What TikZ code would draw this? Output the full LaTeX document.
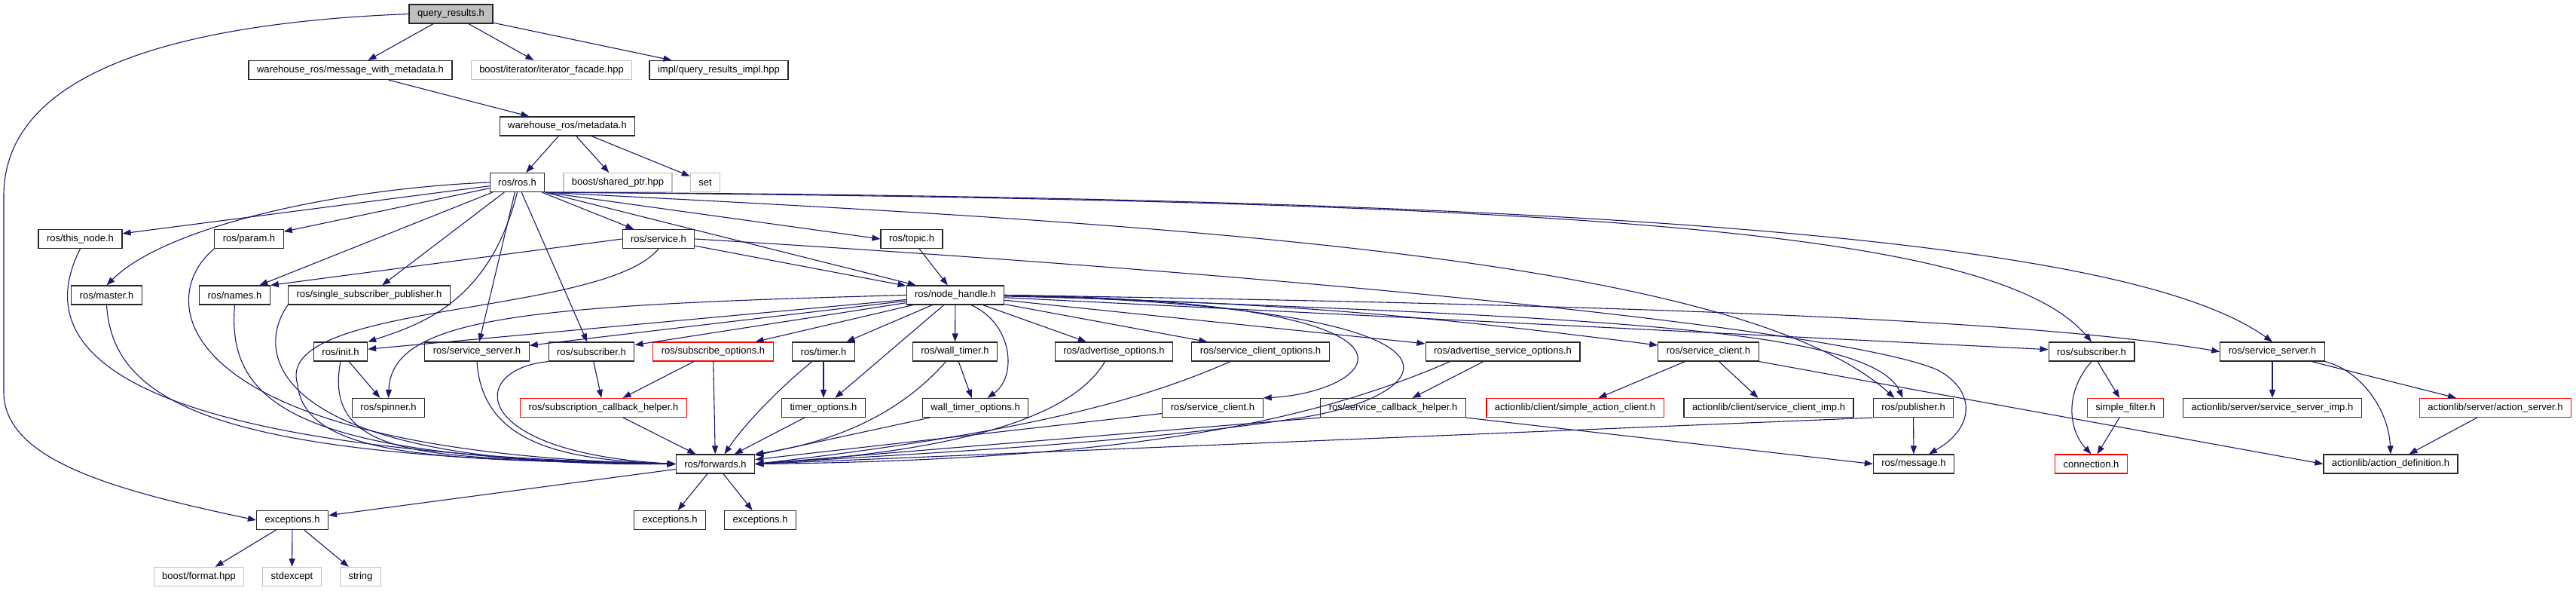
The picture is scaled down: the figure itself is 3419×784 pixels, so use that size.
\documentclass[tikz,border=0pt]{standalone}
\usepackage{fontspec}
\setmainfont{Liberation Sans}
\usetikzlibrary{arrows.meta}
\definecolor{edgeblue}{HTML}{191970}

\begin{document}
\begin{tikzpicture}[x=1pt,y=1pt,
    hdr/.style={draw=black!85,line width=1.2pt,fill=white,rectangle,minimum height=25pt,
        inner xsep=11pt,inner ysep=0pt,font=\fontsize{13}{15}\selectfont},
    hdrroot/.style={hdr,fill=black!25},
    hdrext/.style={hdr,draw=black!25},
    hdrtrunc/.style={hdr,draw=red},
    incl/.style={draw=edgeblue,line width=1.1pt,-{Triangle[length=11pt,width=8pt]}}]
    \useasboundingbox (0,0) rectangle (3419,-784);
     \begin{scope}
    \node[hdrroot] (query) at (598.5,-18.5) {query\_results.h};
    \node[hdr] (msgmeta) at (465,-93) {warehouse\_ros/message\_with\_metadata.h};
    \node[hdrext] (iterfacade) at (732,-93) {boost/iterator/iterator\_facade.hpp};
    \node[hdr] (qrimpl) at (954,-93) {impl/query\_results\_impl.hpp};
    \node[hdr] (metadata) at (753,-167.5) {warehouse\_ros/metadata.h};
    \node[hdr] (rosh) at (686.5,-242) {ros/ros.h};
    \node[hdrext] (sharedptr) at (820,-242) {boost/shared\_ptr.hpp};
    \node[hdrext] (set) at (936,-242) {set};
    \node[hdr] (thisnode) at (106.5,-317) {ros/this\_node.h};
    \node[hdr] (param) at (330.5,-317) {ros/param.h};
    \node[hdr] (service) at (874,-317) {ros/service.h};
    \node[hdr] (topic) at (1210,-317) {ros/topic.h};
    \node[hdr] (master) at (141.5,-391.5) {ros/master.h};
    \node[hdr] (names) at (311.5,-391.5) {ros/names.h};
    \node[hdr] (ssp) at (490,-391.5) {ros/single\_subscriber\_publisher.h};
    \node[hdr] (nodehandle) at (1268,-391.5) {ros/node\_handle.h};
    \node[hdr] (init) at (452,-466.5) {ros/init.h};
    \node[hdr] (srvserverL) at (633,-466.5) {ros/service\_server.h};
    \node[hdr] (subscriberL) at (785,-466.5) {ros/subscriber.h};
    \node[hdrtrunc] (subopts) at (946.5,-466.5) {ros/subscribe\_options.h};
    \node[hdr] (timer) at (1093,-466.5) {ros/timer.h};
    \node[hdr] (walltimer) at (1267.5,-466.5) {ros/wall\_timer.h};
    \node[hdr] (advopts) at (1478.5,-466.5) {ros/advertise\_options.h};
    \node[hdr] (srvclientopts) at (1673,-466.5) {ros/service\_client\_options.h};
    \node[hdr] (advsrvopts) at (1994.5,-466.5) {ros/advertise\_service\_options.h};
    \node[hdr] (srvclientU) at (2267.5,-466.5) {ros/service\_client.h};
    \node[hdr] (subscriberR) at (2776,-466.5) {ros/subscriber.h};
    \node[hdr] (srvserverR) at (3016,-466.5) {ros/service\_server.h};
    \node[hdr] (spinner) at (515.5,-541) {ros/spinner.h};
    \node[hdrtrunc] (subcbhelper) at (801,-541) {ros/subscription\_callback\_helper.h};
    \node[hdr] (timeropts) at (1093,-541) {timer\_options.h};
    \node[hdr] (walltimeropts) at (1294.5,-541) {wall\_timer\_options.h};
    \node[hdr] (srvclientL) at (1609.5,-541) {ros/service\_client.h};
    \node[hdr] (srvcbhelper) at (1849,-541) {ros/service\_callback\_helper.h};
    \node[hdrtrunc] (simpleclient) at (2090.5,-541) {actionlib/client/simple\_action\_client.h};
    \node[hdr] (clientimp) at (2347.5,-541) {actionlib/client/service\_client\_imp.h};
    \node[hdr] (publisher) at (2539.5,-541) {ros/publisher.h};
    \node[hdrtrunc] (simplefilter) at (2821,-541) {simple\_filter.h};
    \node[hdr] (serverimp) at (3016,-541) {actionlib/server/service\_server\_imp.h};
    \node[hdrtrunc] (actionserver) at (3312,-541) {actionlib/server/action\_server.h};
    \node[hdr] (forwards) at (949.5,-615.5) {ros/forwards.h};
    \node[hdr] (message) at (2540,-615.5) {ros/message.h};
    \node[hdrtrunc] (connection) at (2775.5,-615.5) {connection.h};
    \node[hdr] (actiondef) at (3173,-615.5) {actionlib/action\_definition.h};
    \node[hdr] (excL) at (388,-690) {exceptions.h};
    \node[hdr] (excM1) at (889,-690) {exceptions.h};
    \node[hdr] (excM2) at (1009,-690) {exceptions.h};
    \node[hdrext] (format) at (264,-765) {boost/format.hpp};
    \node[hdrext] (stdexcept) at (387.5,-765) {stdexcept};
    \node[hdrext] (string) at (478.5,-765) {string};
     \end{scope}
    \draw[incl] (query) -- (msgmeta);
    \draw[incl] (query) -- (iterfacade);
    \draw[incl] (query) -- (qrimpl);
    \draw[incl] (query.west) .. controls (250,-30) and (5,-90) .. (5,-260) -- (5,-520) .. controls (5,-610) and (150,-650) .. (excL.west);
    \draw[incl] (msgmeta) -- (metadata);
    \draw[incl] (metadata) -- (rosh);
    \draw[incl] (metadata) -- (sharedptr);
    \draw[incl] (metadata) -- (set);
    \draw[incl] (rosh) -- (thisnode);
    \draw[incl] (rosh) -- (param);
    \draw[incl] (rosh.west) .. controls (450,-250) and (220,-300) .. (master.north);
    \draw[incl] (rosh) -- (names);
    \draw[incl] (rosh) -- (ssp);
    \draw[incl] (rosh) -- (service);
    \draw[incl] (rosh.south east) -- (nodehandle);
    \draw[incl] (rosh.south east) -- (topic.west);
    \draw[incl] (rosh.south) .. controls (650,-400) and (560,-430) .. (init.north east);
    \draw[incl] (rosh) -- (srvserverL);
    \draw[incl] (rosh) -- (subscriberL);
    \draw[incl] (rosh.south east) .. controls (1500,-295) and (2300,-335) .. ([xshift=-25pt]publisher.north);
    \draw[incl] (rosh.south east) .. controls (2100,-266) and (2650,-305) .. (subscriberR.north);
    \draw[incl] (rosh.south east) .. controls (2300,-262) and (2850,-335) .. (srvserverR.north);
    \draw[incl] (thisnode.south) .. controls (30,-480) and (200,-600) .. (forwards.west);
    \draw[incl] (param.south west) .. controls (200,-400) and (230,-600) .. (forwards.west);
    \draw[incl] (master.south) .. controls (150,-540) and (300,-610) .. (forwards.west);
    \draw[incl] (names.south) .. controls (300,-540) and (400,-610) .. (forwards.west);
    \draw[incl] (ssp.south west) .. controls (330,-480) and (380,-620) .. (forwards.west);
    \draw[incl] (service.south) .. controls (800,-420) and (360,-400) .. (395,-510) .. controls (405,-610) and (600,-610) .. (forwards.west);
    \draw[incl] (service.west) -- (names.north east);
    \draw[incl] (service) -- (nodehandle);
    \draw[incl] (service.east) .. controls (1800,-370) and (2450,-440) .. (2570,-490) .. controls (2620,-515) and (2625,-565) .. ([xshift=20pt]message.north);
    \draw[incl] (topic) -- (nodehandle);
    \draw[incl] (nodehandle) -- (init);
    \draw[incl] (nodehandle.west) .. controls (700,-405) and (520,-420) .. (spinner.north);
    \draw[incl] (nodehandle) -- (srvserverL);
    \draw[incl] (nodehandle) -- (subscriberL);
    \draw[incl] (nodehandle) -- (subopts);
    \draw[incl] (nodehandle) -- (timer);
    \draw[incl] (nodehandle) -- (timeropts);
    \draw[incl] (nodehandle) -- (walltimer);
    \draw[incl] ([xshift=21pt]nodehandle.south) .. controls (1345,-430) and (1350,-500) .. ([xshift=16pt]walltimeropts.north);
    \draw[incl] (nodehandle) -- (advopts);
    \draw[incl] (nodehandle) -- (srvclientopts);
    \draw[incl] (nodehandle) -- (advsrvopts);
    \draw[incl] (nodehandle) to[bend left=3] (srvclientU);
    \draw[incl] (nodehandle) -- (subscriberR);
    \draw[incl] (nodehandle.east) .. controls (2200,-405) and (2700,-425) .. (srvserverR.west);
    \draw[incl] (nodehandle.east) .. controls (2050,-420) and (2480,-430) .. ([xshift=-14pt]publisher.north);
    \draw[incl] (nodehandle.east) .. controls (1950,-400) and (1830,-520) .. (srvclientL.north east);
    \draw[incl] (nodehandle.east) .. controls (2030,-410) and (1900,-530) .. (1720,-555) .. controls (1500,-590) and (1150,-605) .. (forwards.east);
    \draw[incl] (init) -- (spinner);
    \draw[incl] (init.south) .. controls (425,-620) and (600,-605) .. (forwards.west);
    \draw[incl] (srvserverL.south) .. controls (640,-590) and (750,-610) .. (forwards.west);
    \draw[incl] (subscriberL) -- (subcbhelper);
    \draw[incl] (subscriberL.south west) .. controls (620,-490) and (620,-600) .. (forwards.west);
    \draw[incl] (subopts) -- (subcbhelper);
    \draw[incl] (subopts) -- (forwards);
    \draw[incl] (subcbhelper) -- (forwards);
    \draw[incl] (timer) -- (timeropts);
    \draw[incl] ([xshift=-15pt]timer.south) .. controls (1040,-510) and (990,-560) .. ([xshift=12pt]forwards.north);
    \draw[incl] (walltimer) -- (walltimeropts);
    \draw[incl] ([xshift=-12pt]walltimer.south) .. controls (1220,-520) and (1150,-580) .. (forwards.north east);
    \draw[incl] (timeropts) -- (forwards);
    \draw[incl] (walltimeropts) -- (forwards);
    \draw[incl] ([xshift=-12pt]advopts.south) .. controls (1420,-560) and (1250,-600) .. (forwards.east);
    \draw[incl] ([xshift=-40pt]srvclientopts.south) .. controls (1540,-520) and (1400,-570) .. (forwards.east);
    \draw[incl] (advsrvopts) -- (srvcbhelper);
    \draw[incl] ([xshift=-70pt]advsrvopts.south) .. controls (1740,-560) and (1500,-610) .. (forwards.east);
    \draw[incl] (srvclientL) -- (forwards);
    \draw[incl] (srvcbhelper.south west) -- (forwards.east);
    \draw[incl] (srvcbhelper.south east) -- (message.west);
    \draw[incl] (srvclientU) -- (simpleclient);
    \draw[incl] (srvclientU) -- (clientimp);
    \draw[incl] (srvclientU.south east) -- (actiondef.west);
    \draw[incl] (publisher.south west) -- (forwards.east);
    \draw[incl] (publisher) -- (message);
    \draw[incl] (subscriberR) -- (simplefilter);
    \draw[incl] (subscriberR.south) .. controls (2740,-520) and (2745,-570) .. (connection.north);
    \draw[incl] (simplefilter) -- (connection);
    \draw[incl] (srvserverR) -- (serverimp);
    \draw[incl] (srvserverR) -- (actionserver);
    \draw[incl] (srvserverR.south east) .. controls (3130,-490) and (3170,-540) .. (actiondef.north);
    \draw[incl] (actionserver) -- (actiondef);
    \draw[incl] (forwards) -- (excL);
    \draw[incl] (forwards) -- (excM1);
    \draw[incl] (forwards) -- (excM2);
    \draw[incl] (excL) -- (format);
    \draw[incl] (excL) -- (stdexcept);
    \draw[incl] (excL) -- (string);
    \end{tikzpicture}
\end{document}
